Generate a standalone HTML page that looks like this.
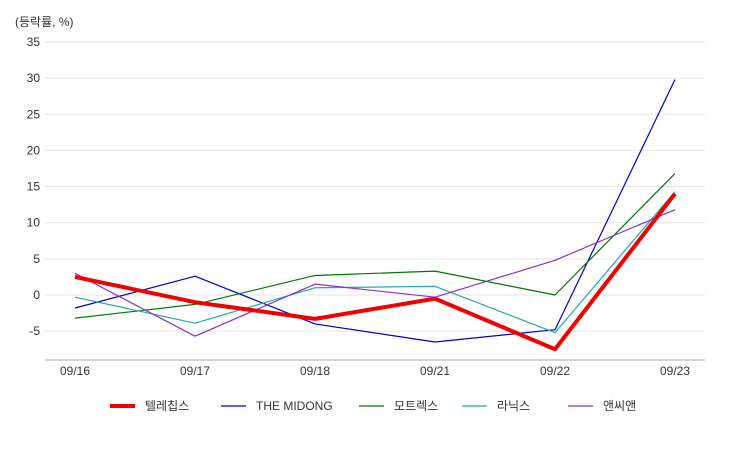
<!DOCTYPE html>
<html><head><meta charset="utf-8"><style>
body{margin:0;background:#fff;font-family:"Liberation Sans","Noto Sans CJK KR",sans-serif;}
svg text{font-family:"Liberation Sans","Noto Sans CJK KR",sans-serif;fill:#333;font-size:12px;}
</style></head><body>
<svg id="chart" width="750" height="450" xmlns="http://www.w3.org/2000/svg">
<g id="grid"></g><g id="axes"></g><g id="series"></g><g id="legend"></g>
</svg>
<script>
const categories=["09/16","09/17","09/18","09/21","09/22","09/23"];
const yTicks=[-5,0,5,10,15,20,25,30,35];
const seriesNames=["텔레칩스","THE MIDONG","모트렉스","라닉스","앤씨앤"];
const seriesColors=["#ee0000","#0000cc","#007700","#22aaaa","#8833cc"];
const s0=[2.5,-1,-3.3,-0.5,-7.5,14];
const s1=[-1.8,2.6,-4,-6.5,-4.8,29.8];
const s2=[-3.2,-1.3,2.7,3.3,0,16.8];
const s3=[-0.3,-3.9,1,1.2,-5.2,14.3];
const s4=[3,-5.7,1.5,-0.3,4.8,11.8];
const seriesData=[s0,s1,s2,s3,s4];
const NS="http://www.w3.org/2000/svg";
const x=i=>75+i*120;
const y=v=>295-v*7.23;
function mk(t,a,p){const e=document.createElementNS(NS,t);for(const k in a)e.setAttribute(k,a[k]);p.appendChild(e);return e;}
const grid=document.getElementById('grid'),axes=document.getElementById('axes'),ser=document.getElementById('series'),leg=document.getElementById('legend');
const yt=mk('text',{x:15,y:26},axes);yt.textContent="(등락률, %)";


yTicks.forEach(v=>{
 const l=mk('line',{x1:45,x2:705,y1:y(v),y2:y(v),stroke:'#e6e6e6'},grid);
 
 
 const t=mk('text',{x:40,y:y(v)+4,'text-anchor':'end'},axes);t.textContent=v;
 
 
});
const ax=mk('line',{x1:45,x2:705,y1:360,y2:360,stroke:'#aaa'},axes);


categories.forEach((c,i)=>{
 const t=mk('text',{x:x(i),y:375,'text-anchor':'middle'},axes);t.textContent=c;
 
 
});
const order=[1,2,3,4,0];
order.forEach(k=>{
 const pts=seriesData[k].map((v,i)=>x(i)+','+y(v)).join(' ');
 const p=mk('polyline',{points:pts,fill:'none',stroke:seriesColors[k],'stroke-width':k===0?4:1.2,'stroke-linejoin':'round'},ser);
 
 
});
const lx=[110,221,359,462,568];
seriesNames.forEach((n,k)=>{
 const g=mk('g',{},leg);
 
 
 mk('line',{x1:lx[k],x2:lx[k]+25,y1:406,y2:406,stroke:seriesColors[k],'stroke-width':k===0?4:1.2},g);
 const t=mk('text',{x:lx[k]+35,y:410},g);t.textContent=n;
});
</script>
</body></html>
